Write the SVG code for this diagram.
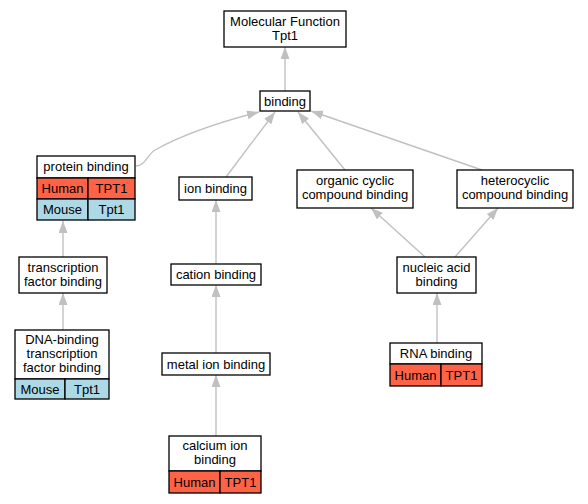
<svg xmlns="http://www.w3.org/2000/svg" width="588" height="504" viewBox="0 0 588 504">
<style>
text{font-family:"Liberation Sans",Arial,sans-serif;font-size:13px;fill:#000;text-anchor:middle}
.b{fill:#fff;stroke:#000;stroke-width:1.3}
.h{fill:#ff6347;stroke:#000;stroke-width:1.3}
.m{fill:#add8e6;stroke:#000;stroke-width:1.3}
.e{fill:none;stroke:#c0c0c0;stroke-width:1.4;marker-end:url(#a)}
</style>
<defs>
<marker id="a" markerUnits="userSpaceOnUse" markerWidth="13" markerHeight="10" refX="12" refY="4.5" orient="auto">
<path d="M0,0 L12,4.5 L0,9 z" fill="#c0c0c0"/>
</marker>
</defs>
<rect width="588" height="504" fill="#fff"/>
<g id="edges">
<path class="e" d="M285,91 L285,47"/>
<path class="e" d="M136,166 C145,166 148,154 155,150 C180,136 220,122 259,112"/>
<path class="e" d="M226,177 L275,112"/>
<path class="e" d="M345,170 L298,112"/>
<path class="e" d="M482,170 L311,111"/>
<path class="e" d="M216,264 L216,200"/>
<path class="e" d="M216,353 L216,285"/>
<path class="e" d="M216,436 L216,375"/>
<path class="e" d="M63,257 L63,221"/>
<path class="e" d="M63,330 L63,293"/>
<path class="e" d="M425,257 L371,208"/>
<path class="e" d="M455,257 L498,208"/>
<path class="e" d="M437,343 L437,293"/>
</g>
<g id="mf">
<rect class="b" x="224" y="11" width="122" height="36"/>
<text x="285" y="26">Molecular Function</text>
<text x="285" y="40">Tpt1</text>
</g>
<g id="binding">
<rect class="b" x="260" y="91" width="50" height="20"/>
<text x="285" y="105.5">binding</text>
</g>
<g id="protein">
<rect class="b" x="37" y="156" width="98" height="22"/>
<text x="86" y="171">protein binding</text>
<rect class="h" x="37" y="178" width="51" height="21"/>
<rect class="h" x="88" y="178" width="47" height="21"/>
<text x="62.5" y="193">Human</text>
<text x="111.5" y="193">TPT1</text>
<rect class="m" x="37" y="199" width="51" height="21"/>
<rect class="m" x="88" y="199" width="47" height="21"/>
<text x="62.5" y="214">Mouse</text>
<text x="111.5" y="214">Tpt1</text>
</g>
<g id="tf">
<rect class="b" x="19" y="257" width="88" height="36"/>
<text x="63" y="272">transcription</text>
<text x="63" y="286">factor binding</text>
</g>
<g id="dna">
<rect class="b" x="15" y="330" width="94" height="49"/>
<text x="62" y="344">DNA-binding</text>
<text x="62" y="358">transcription</text>
<text x="62" y="372">factor binding</text>
<rect class="m" x="15" y="379" width="50" height="20"/>
<rect class="m" x="65" y="379" width="44" height="20"/>
<text x="40" y="393.5">Mouse</text>
<text x="87" y="393.5">Tpt1</text>
</g>
<g id="ion">
<rect class="b" x="179" y="177" width="73" height="23"/>
<text x="215.5" y="192.5">ion binding</text>
</g>
<g id="cation">
<rect class="b" x="171" y="264" width="90" height="21"/>
<text x="216" y="279">cation binding</text>
</g>
<g id="metal">
<rect class="b" x="162" y="353" width="108" height="22"/>
<text x="216" y="368.5">metal ion binding</text>
</g>
<g id="calcium">
<rect class="b" x="169" y="436" width="92" height="35"/>
<text x="215" y="450">calcium ion</text>
<text x="215" y="464">binding</text>
<rect class="h" x="169" y="471" width="51" height="22"/>
<rect class="h" x="220" y="471" width="41" height="22"/>
<text x="194.5" y="486.5">Human</text>
<text x="240.5" y="486.5">TPT1</text>
</g>
<g id="organic">
<rect class="b" x="297" y="170" width="116" height="38"/>
<text x="355" y="185">organic cyclic</text>
<text x="355" y="199">compound binding</text>
</g>
<g id="hetero">
<rect class="b" x="457" y="170" width="116" height="38"/>
<text x="515" y="185">heterocyclic</text>
<text x="515" y="199">compound binding</text>
</g>
<g id="nucleic">
<rect class="b" x="397" y="257" width="79" height="36"/>
<text x="436.5" y="272">nucleic acid</text>
<text x="436.5" y="286">binding</text>
</g>
<g id="rna">
<rect class="b" x="390" y="343" width="92" height="21"/>
<text x="436" y="358">RNA binding</text>
<rect class="h" x="390" y="364" width="51" height="22"/>
<rect class="h" x="441" y="364" width="41" height="22"/>
<text x="415.5" y="379.5">Human</text>
<text x="461.5" y="379.5">TPT1</text>
</g>
</svg>
